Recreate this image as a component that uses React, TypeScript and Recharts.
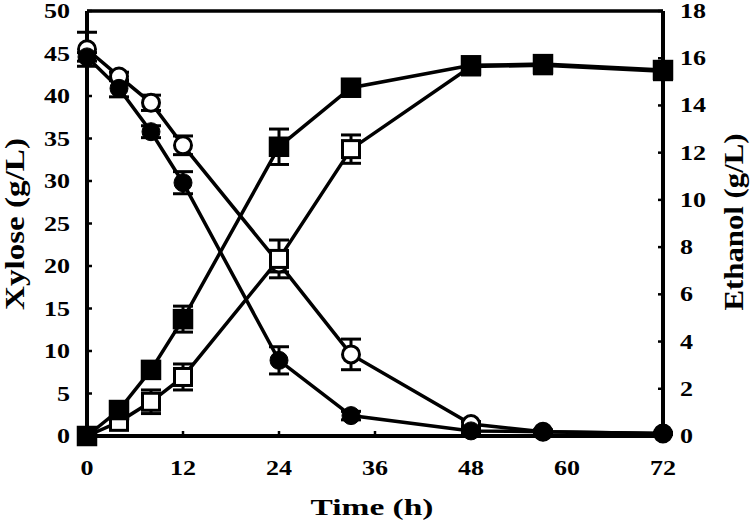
import React from 'react';
import { ComposedChart, Line, XAxis, YAxis, ErrorBar, ReferenceLine } from 'recharts';

const time = [0, 4, 8, 12, 24, 33, 48, 57, 72];
const xyloseFilled = [44.6, 40.9, 35.8, 29.8, 8.9, 2.4, 0.6, 0.5, 0.3];
const xyloseFilledErr = [0.5, 1.0, 0.7, 1.3, 1.6, 0.5, 0.2, 0.2, 0.1];
const xyloseOpen = [45.5, 42.3, 39.2, 34.2, 20.3, 9.6, 1.4, 0.5, 0.3];
const xyloseOpenErr = [2.0, 0.5, 0.9, 1.1, 1.0, 1.8, 0.3, 0.2, 0.1];
const ethanolFilled = [0, 1.1, 2.8, 4.95, 12.25, 14.75, 15.7, 15.75, 15.5];
const ethanolFilledErr = [0, 0.15, 0.25, 0.55, 0.75, 0.2, 0.3, 0.3, 0.3];
const ethanolOpen = [0, 0.6, 1.45, 2.5, 7.5, 12.15, 15.65, 15.7, 15.45];
const ethanolOpenErr = [0, 0.3, 0.5, 0.55, 0.8, 0.6, 0.3, 0.3, 0.3];

const xTicks = [0, 12, 24, 36, 48, 60, 72];
const leftTicks = [0, 5, 10, 15, 20, 25, 30, 35, 40, 45, 50];
const rightTicks = [0, 2, 4, 6, 8, 10, 12, 14, 16, 18];

const rows = time.map((t, i) => ({
  time: t,
  xf: xyloseFilled[i],
  xfE: xyloseFilledErr[i],
  xo: xyloseOpen[i],
  xoE: xyloseOpenErr[i],
  ef: ethanolFilled[i],
  efE: ethanolFilledErr[i],
  eo: ethanolOpen[i],
  eoE: ethanolOpenErr[i],
}));

const FONT = '"Liberation Serif", "Times New Roman", serif';
const DIGIT_W = 13;

const makeTick = (anchor: 'start' | 'middle' | 'end', dy: number) => (props: any) => {
  const { x, y, payload } = props;
  const s = String(payload.value);
  return (
    <text
      x={x}
      y={y + dy}
      textAnchor={anchor}
      fontFamily={FONT}
      fontWeight="bold"
      fontSize={21}
      fill="#000"
      textLength={s.length * DIGIT_W}
      lengthAdjust="spacingAndGlyphs"
    >
      {s}
    </text>
  );
};

const LeftTick = makeTick('end', 7);
const RightTick = makeTick('start', 7);
const BottomTick = makeTick('middle', 34);

const squareDot = (filled: boolean) => (props: any) => {
  const { cx, cy, index } = props;
  if (cx == null || cy == null) return <g key={`n-${filled}-${index}`} />;
  const s = filled ? 19 : 17;
  return (
    <rect
      key={`sq-${filled ? 'f' : 'o'}-${index}`}
      x={cx - s / 2}
      y={cy - s / 2}
      width={s}
      height={s}
      fill={filled ? '#000' : '#fff'}
      stroke="#000"
      strokeWidth={filled ? 1.5 : 3}
    />
  );
};

export default function App() {
  return (
    <div style={{ position: 'absolute', left: 0, top: 0, width: 750, height: 526, background: '#fff' }}>
      <ComposedChart
        width={750}
        height={526}
        data={rows}
        margin={{ top: 11, right: 27, bottom: 40, left: 27 }}
      >
        <XAxis
          dataKey="time"
          type="number"
          domain={[0, 72]}
          ticks={xTicks}
          height={50}
          axisLine={{ stroke: '#000', strokeWidth: 4 }}
          tickLine={{ stroke: '#000', strokeWidth: 2.5 }}
          tickSize={-5}
          tickMargin={10}
          tick={BottomTick}
          interval={0}
        />
        <YAxis
          yAxisId="left"
          orientation="left"
          domain={[0, 50]}
          ticks={leftTicks}
          width={60}
          axisLine={{ stroke: '#000', strokeWidth: 4 }}
          tickLine={{ stroke: '#000', strokeWidth: 2.5 }}
          tickSize={-5}
          tickMargin={22}
          tick={LeftTick}
          interval={0}
        />
        <YAxis
          yAxisId="right"
          orientation="right"
          domain={[0, 18]}
          ticks={rightTicks}
          width={60}
          axisLine={{ stroke: '#000', strokeWidth: 4 }}
          tickLine={{ stroke: '#000', strokeWidth: 2.5 }}
          tickSize={-5}
          tickMargin={22}
          tick={RightTick}
          interval={0}
        />
        <ReferenceLine yAxisId="left" y={50} stroke="#000" strokeWidth={3.5} />
        <Line
          yAxisId="left"
          dataKey="xo"
          type="linear"
          stroke="#000"
          strokeWidth={3.5}
          isAnimationActive={false}
          dot={{ r: 8.5, fill: '#fff', stroke: '#000', strokeWidth: 3 }}
          activeDot={false}
        >
          <ErrorBar dataKey="xoE" direction="y" width={10} stroke="#000" strokeWidth={3} />
        </Line>
        <Line
          yAxisId="left"
          dataKey="xf"
          type="linear"
          stroke="#000"
          strokeWidth={3.5}
          isAnimationActive={false}
          dot={{ r: 9, fill: '#000', stroke: '#000', strokeWidth: 1 }}
          activeDot={false}
        >
          <ErrorBar dataKey="xfE" direction="y" width={10} stroke="#000" strokeWidth={3} />
        </Line>
        <Line
          yAxisId="right"
          dataKey="eo"
          type="linear"
          stroke="#000"
          strokeWidth={3.5}
          isAnimationActive={false}
          dot={squareDot(false)}
          activeDot={false}
        >
          <ErrorBar dataKey="eoE" direction="y" width={10} stroke="#000" strokeWidth={3} />
        </Line>
        <Line
          yAxisId="right"
          dataKey="ef"
          type="linear"
          stroke="#000"
          strokeWidth={3.5}
          isAnimationActive={false}
          dot={squareDot(true)}
          activeDot={false}
        >
          <ErrorBar dataKey="efE" direction="y" width={10} stroke="#000" strokeWidth={3} />
        </Line>
      </ComposedChart>
      <svg
        width={750}
        height={526}
        style={{ position: 'absolute', left: 0, top: 0, pointerEvents: 'none' }}
      >
        <text
          x={372}
          y={515}
          textAnchor="middle"
          fontFamily={FONT}
          fontWeight="bold"
          fontSize={24}
          fill="#000"
          textLength={123}
          lengthAdjust="spacingAndGlyphs"
        >
          Time (h)
        </text>
        <text
          transform="translate(24,224) rotate(-90)"
          textAnchor="middle"
          fontFamily={FONT}
          fontWeight="bold"
          fontSize={28}
          fill="#000"
          textLength={172}
          lengthAdjust="spacingAndGlyphs"
        >
          Xylose (g/L)
        </text>
        <text
          transform="translate(743,222) rotate(-90)"
          textAnchor="middle"
          fontFamily={FONT}
          fontWeight="bold"
          fontSize={28}
          fill="#000"
          textLength={177}
          lengthAdjust="spacingAndGlyphs"
        >
          Ethanol (g/L)
        </text>
      </svg>
    </div>
  );
}
